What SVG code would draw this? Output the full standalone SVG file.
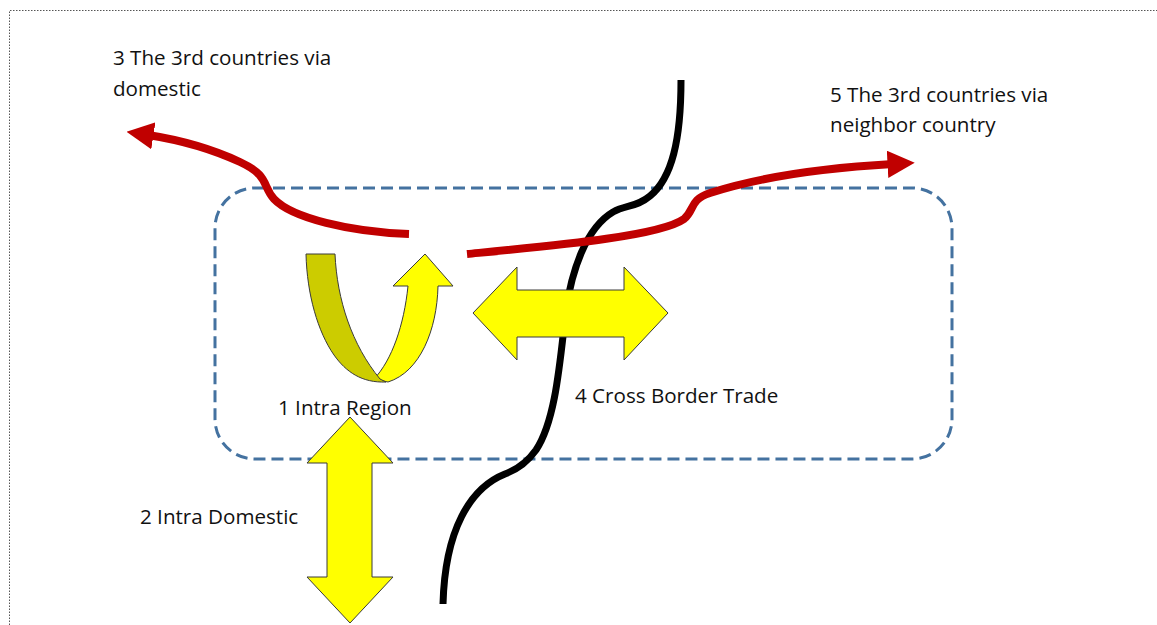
<svg xmlns="http://www.w3.org/2000/svg" width="1157" height="625" viewBox="0 0 1157 625">
  <defs>
    <style>
      .lbl { font-family: "Open Sans", "Liberation Sans", sans-serif; font-size: 20.6px; fill: #111; }
      .frame { fill: none; stroke: #555; stroke-width: 1; stroke-dasharray: 1.5 1.5; }
      .region { fill: none; stroke: #4472A0; stroke-width: 3; stroke-dasharray: 12 6; }
      .flow { fill: none; stroke: #C00000; stroke-width: 8; }
      .border { fill: none; stroke: #000; stroke-width: 7; stroke-linecap: butt; }
      .yel { fill: #FFFF00; stroke: #3a3a3a; stroke-width: 1; stroke-linejoin: miter; }
      .yel-dark { fill: #CCCC00; stroke: #3a3a3a; stroke-width: 1; }
    </style>
    <marker id="redHead" viewBox="0 0 10 10" refX="2" refY="5" markerWidth="3.4" markerHeight="3.4" markerUnits="strokeWidth" orient="auto">
      <path d="M0,0 L10,5 L0,10 Z" fill="#C00000"/>
    </marker>
  </defs>

  <rect width="1157" height="625" fill="#fff"/>
  <path class="frame" d="M9.5,625 V10.5 H1157"/>

  <!-- regional boundary -->
  <g id="region">
    <rect class="region" x="215" y="188" width="737" height="271" rx="40" ry="40"/>
  </g>

  <!-- national border line -->
  <g id="border">
    <path class="border" d="M681,80 C681,140 672,178 650,196 C637,207 626,205 613,212 C586,228 572,270 566,310 C560,360 556,420 536,450 C526,464 516,470 505,474 C470,488 445,530 443,604"/>
  </g>

  <g id="connectors">
    <!-- 3: to third countries via domestic -->
    <path class="flow" d="M409,234 C350,232 292,218 274,199 C262,186 270,176 240,162 C210,148 180,140 148,135" marker-end="url(#redHead)"/>
    <!-- 5: to third countries via neighbour -->
    <path class="flow" d="M467,254 C560,245 660,236 684,219 C695,210 689,200 710,193 C760,177 820,168 893,164" marker-end="url(#redHead)"/>
  </g>

  <!-- 1: intra region u-turn -->
  <g id="intra-region">
    <path class="yel" d="M374,379 C392,360 404,325 408,286 L393,286 L425,254 L453,286 L438,286 C437,330 420,372 388,382 Z"/>
    <path class="yel-dark" d="M306,254 L335,254 C337,300 352,345 380,379 L386,382 C362,383 346,372 334,355 C318,332 307,295 306,254 Z"/>
  </g>

  <!-- 4: cross border trade -->
  <g id="cross-border">
    <path class="yel" d="M473,313 L517,267 L517,290 L624,290 L624,267 L668,313 L624,360 L624,337 L517,337 L517,360 Z"/>
  </g>

  <!-- 2: intra domestic -->
  <g id="intra-domestic">
    <path class="yel" d="M350,417 L393,463 L372,463 L372,577 L393,577 L350,623 L307,577 L327,577 L327,463 L307,463 Z"/>
  </g>

  <g id="labels">
    <text class="lbl" x="113" y="65">3 The 3rd countries via</text>
    <text class="lbl" x="113" y="96">domestic</text>
    <text class="lbl" x="830" y="102">5 The 3rd countries via</text>
    <text class="lbl" x="830" y="132">neighbor country</text>
    <text class="lbl" x="278" y="415">1 Intra Region</text>
    <text class="lbl" x="575" y="403">4 Cross Border Trade</text>
    <text class="lbl" x="140" y="524">2 Intra Domestic</text>
  </g>
</svg>
